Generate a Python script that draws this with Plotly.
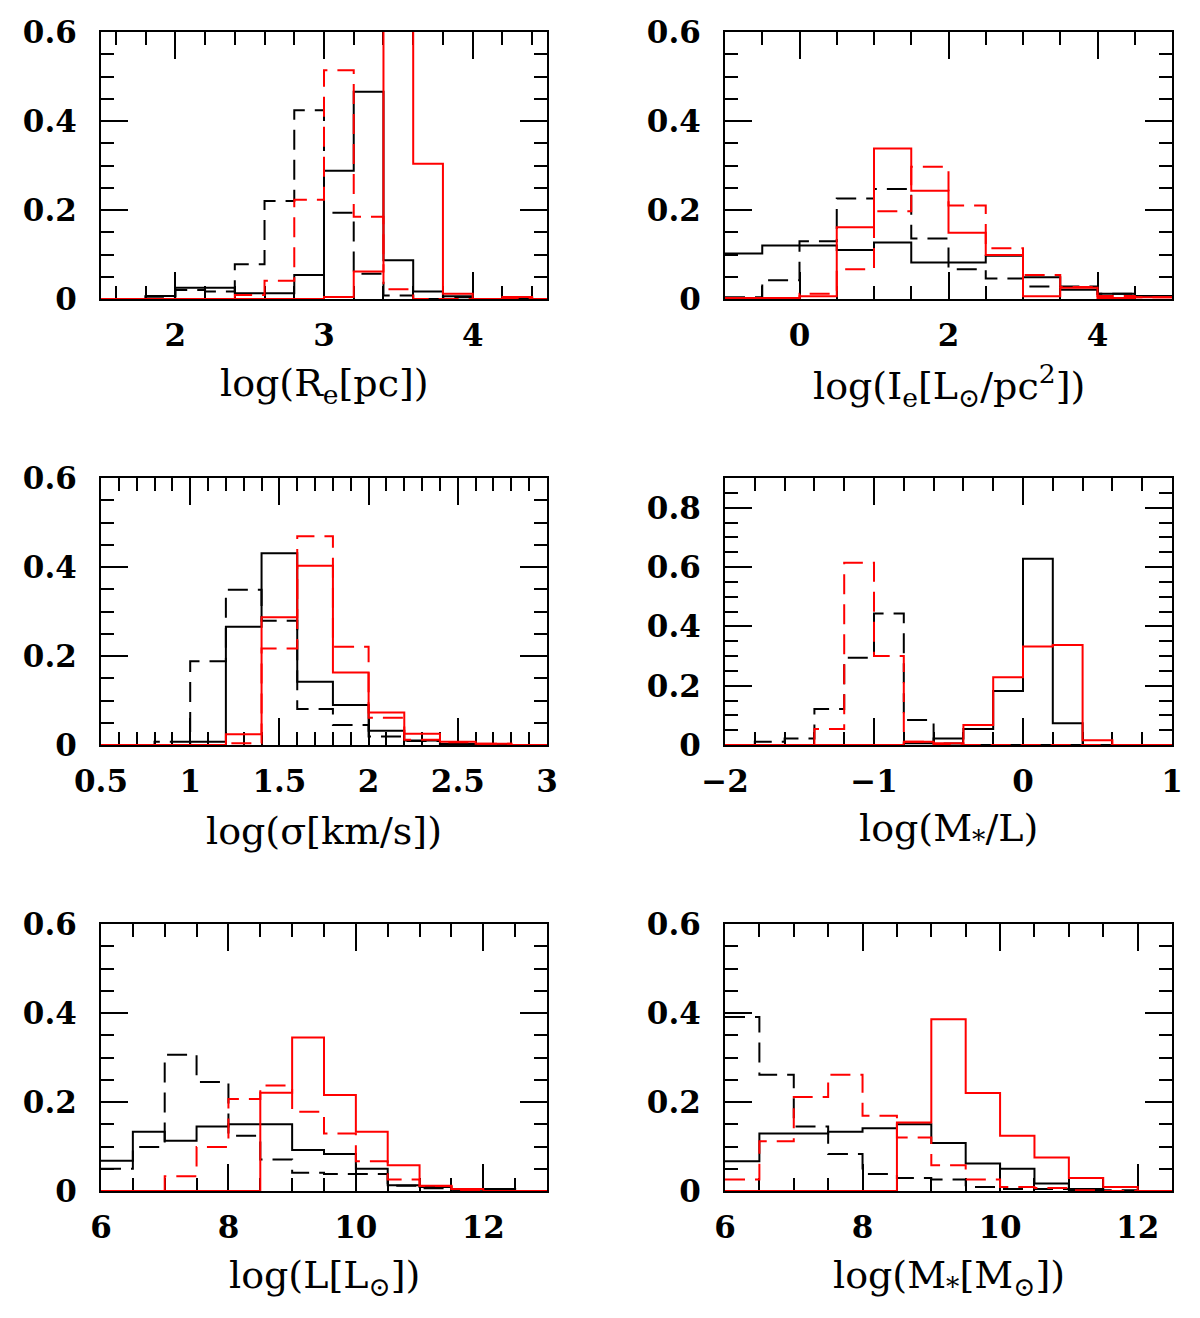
import plotly.graph_objects as go
from plotly.subplots import make_subplots

# bin edges and fractions for each panel (black solid, black dashed, red solid, red dashed)
re_edges = [1.4, 1.6, 1.8, 2.0, 2.2, 2.4, 2.6, 2.8, 3.0, 3.2, 3.4, 3.6, 3.8, 4.0, 4.2, 4.4, 4.6]
re_black = [0, 0, 0.007, 0.025, 0.025, 0.013, 0.013, 0.054, 0.288, 0.466, 0.087, 0.017, 0.006, 0, 0.003, 0]
re_black_d = [0, 0, 0.005, 0.02, 0.017, 0.078, 0.22, 0.424, 0.194, 0.057, 0.008, 0, 0.004, 0, 0, 0]
re_red = [0, 0, 0, 0, 0, 0, 0, 0, 0.0045, 0.062, 0.75, 0.304, 0.012, 0, 0.0045, 0]
re_red_d = [0, 0, 0, 0, 0, 0.009, 0.041, 0.223, 0.514, 0.185, 0.022, 0, 0, 0, 0, 0]

ie_edges = [-1.0, -0.5, 0.0, 0.5, 1.0, 1.5, 2.0, 2.5, 3.0, 3.5, 4.0, 4.5, 5.0]
ie_black = [0.102, 0.12, 0.12, 0.11, 0.127, 0.082, 0.082, 0.097, 0.049, 0.021, 0.012, 0.007]
ie_black_d = [0.004, 0.042, 0.13, 0.226, 0.247, 0.136, 0.067, 0.046, 0.028, 0.028, 0.012, 0.006]
ie_red = [0.002, 0.002, 0.006, 0.161, 0.338, 0.243, 0.149, 0.099, 0.006, 0.025, 0.002, 0.004]
ie_red_d = [0, 0, 0.012, 0.067, 0.197, 0.297, 0.21, 0.114, 0.054, 0.027, 0.007, 0.004]

sig_edges = [0.4, 0.6, 0.8, 1.0, 1.2, 1.4, 1.6, 1.8, 2.0, 2.2, 2.4, 2.6, 2.8, 3.0]
sig_black = [0, 0, 0, 0.0075, 0.266, 0.431, 0.142, 0.09, 0.032, 0.01, 0.002, 0, 0]
sig_black_d = [0, 0, 0.0075, 0.188, 0.349, 0.279, 0.081, 0.045, 0.019, 0.009, 0.002, 0, 0]
sig_red = [0, 0, 0, 0, 0.024, 0.287, 0.403, 0.163, 0.073, 0.025, 0.0075, 0.003, 0]
sig_red_d = [0, 0, 0, 0, 0.004, 0.217, 0.469, 0.221, 0.061, 0.012, 0.006, 0.003, 0]

ml_edges = [-2.0, -1.8, -1.6, -1.4, -1.2, -1.0, -0.8, -0.6, -0.4, -0.2, 0.0, 0.2, 0.4, 0.6, 0.8, 1.0]
ml_black = [0, 0, 0, 0, 0, 0, 0.006, 0.022, 0.054, 0.182, 0.628, 0.073, 0, 0, 0]
ml_black_d = [0, 0.011, 0.022, 0.121, 0.294, 0.443, 0.084, 0.005, 0, 0, 0, 0, 0, 0, 0]
ml_red = [0, 0, 0, 0, 0, 0, 0.011, 0.006, 0.067, 0.228, 0.332, 0.337, 0.016, 0, 0]
ml_red_d = [0, 0, 0, 0.054, 0.614, 0.3, 0.011, 0, 0, 0, 0, 0, 0, 0, 0]

lum_edges = [6.0, 6.5, 7.0, 7.5, 8.0, 8.5, 9.0, 9.5, 10.0, 10.5, 11.0, 11.5, 12.0, 12.5, 13.0]
lum_black = [0.068, 0.133, 0.113, 0.145, 0.15, 0.15, 0.092, 0.083, 0.05, 0.013, 0.009, 0.003, 0.0045, 0]
lum_black_d = [0.05, 0.099, 0.306, 0.245, 0.124, 0.071, 0.041, 0.038, 0.038, 0.012, 0.006, 0.003, 0, 0]
lum_red = [0, 0, 0, 0, 0, 0.221, 0.345, 0.216, 0.133, 0.058, 0.012, 0.0045, 0, 0]
lum_red_d = [0, 0, 0.033, 0.099, 0.207, 0.237, 0.178, 0.129, 0.067, 0.026, 0.011, 0, 0, 0]

ms_edges = [6.0, 6.5, 7.0, 7.5, 8.0, 8.5, 9.0, 9.5, 10.0, 10.5, 11.0, 11.5, 12.0, 12.5]
ms_black = [0.067, 0.129, 0.129, 0.133, 0.141, 0.15, 0.108, 0.062, 0.05, 0.017, 0.0045, 0, 0]
ms_black_d = [0.391, 0.261, 0.145, 0.083, 0.038, 0.029, 0.026, 0.009, 0.0045, 0.0045, 0.0015, 0.0015, 0]
ms_red = [0, 0, 0, 0, 0, 0.154, 0.386, 0.22, 0.124, 0.075, 0.029, 0.009, 0]
ms_red_d = [0.026, 0.112, 0.211, 0.261, 0.169, 0.12, 0.058, 0.026, 0.009, 0.007, 0.0015, 0, 0]

panels = [
    # edges, series, x range, x dtick, x minor, y top, title
    (re_edges, [re_black_d, re_black, re_red_d, re_red], [1.5, 4.5], 1, 0.2, 0.6,
     "log(R<sub>e</sub>[pc])"),
    (ie_edges, [ie_black_d, ie_black, ie_red_d, ie_red], [-1, 5], 2, 0.5, 0.6,
     "log(I<sub>e</sub>[L<sub>⊙</sub>/pc<sup>2</sup>])"),
    (sig_edges, [sig_black_d, sig_black, sig_red_d, sig_red], [0.5, 3], 0.5, 0.1, 0.6,
     "log(σ[km/s])"),
    (ml_edges, [ml_black_d, ml_black, ml_red_d, ml_red], [-2, 1], 1, 0.2, 0.9,
     "log(M<sub>*</sub>/L)"),
    (lum_edges, [lum_black_d, lum_black, lum_red_d, lum_red], [6, 13], 2, 0.5, 0.6,
     "log(L[L<sub>⊙</sub>])"),
    (ms_edges, [ms_black_d, ms_black, ms_red_d, ms_red], [6, 12.5], 2, 0.5, 0.6,
     "log(M<sub>*</sub>[M<sub>⊙</sub>])"),
]

styles = [("black", "20px,10px"), ("black", "solid"), ("red", "20px,10px"), ("red", "solid")]

# the page body adds an 8px margin, so the figure is a bit smaller and shifted
PAD = 8
W, H = 1200 - 2 * PAD, 1318 - 2 * PAD
col_px = [(101 - PAD, 547 - PAD), (725 - PAD, 1172 - PAD)]
row_px = [(32 - PAD, 299 - PAD), (478 - PAD, 745 - PAD), (924 - PAD, 1191 - PAD)]

fig = make_subplots(rows=3, cols=2)

for i, (edges, series, xr, xd, xminor, ytop, title) in enumerate(panels):
    r, c = i // 2 + 1, i % 2 + 1
    for vals, (color, dash) in zip(series, styles):
        fig.add_trace(
            go.Scatter(
                x=edges,
                y=vals + [vals[-1]],
                mode="lines",
                line=dict(color=color, dash=dash, width=2, shape="hv"),
                showlegend=False,
                hoverinfo="skip",
            ),
            row=r,
            col=c,
        )

    x0, x1 = col_px[c - 1]
    y0, y1 = row_px[r - 1]
    fig.update_xaxes(
        domain=[x0 / W, x1 / W],
        range=xr,
        dtick=xd,
        tick0=0,
        ticks="inside",
        ticklen=27,
        tickwidth=2,
        tickcolor="black",
        minor=dict(dtick=xminor, ticks="inside", ticklen=13, tickwidth=2, tickcolor="black"),
        showline=True,
        linecolor="black",
        linewidth=2,
        mirror="ticks",
        showgrid=False,
        zeroline=False,
        layer="below traces",
        automargin=False,
        ticklabelstandoff=8,
        tickfont=dict(family="DejaVu Serif", size=31, color="black", weight="bold"),
        row=r,
        col=c,
    )
    fig.update_yaxes(
        domain=[1 - y1 / H, 1 - y0 / H],
        range=[0, ytop],
        dtick=0.2,
        tick0=0,
        ticks="inside",
        ticklen=27,
        tickwidth=2,
        tickcolor="black",
        minor=dict(dtick=0.05, ticks="inside", ticklen=13, tickwidth=2, tickcolor="black"),
        showline=True,
        linecolor="black",
        linewidth=2,
        mirror="ticks",
        showgrid=False,
        zeroline=False,
        layer="below traces",
        automargin=False,
        ticklabelstandoff=16,
        tickfont=dict(family="DejaVu Serif", size=31, color="black", weight="bold"),
        row=r,
        col=c,
    )
    fig.add_annotation(
        text=title,
        x=(x0 + x1) / 2 / W,
        y=1 - (y1 + 86) / H,
        xref="paper",
        yref="paper",
        showarrow=False,
        xanchor="center",
        yanchor="middle",
        font=dict(family="DejaVu Serif", size=38, color="black"),
    )

fig.update_layout(
    width=W,
    height=H,
    margin=dict(l=0, r=0, t=0, b=0),
    plot_bgcolor="white",
    paper_bgcolor="white",
)

fig.write_html("out.html")
